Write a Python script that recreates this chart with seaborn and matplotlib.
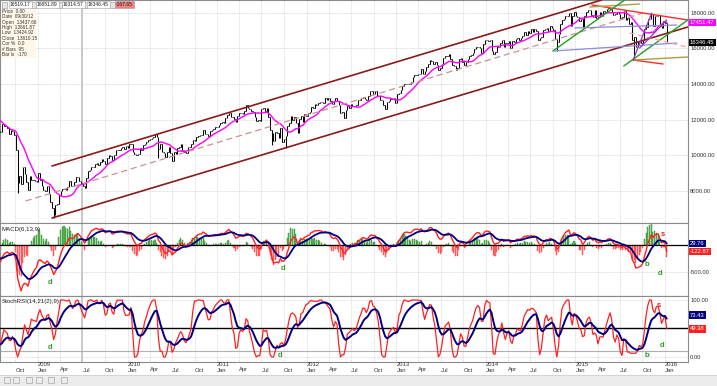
import numpy as np
import pandas as pd
import matplotlib
matplotlib.use("Agg")
import matplotlib.pyplot as plt
import matplotlib.dates as mdates
from matplotlib.patches import Rectangle
import seaborn as sns

# ---------------- data: weekly closes (Friday) ----------------
close_2007 = [13611, 13908, 13851, 13265, 13181, 13240, 13079, 13379, 13358,
              13113, 13442, 13821, 13896, 14066, 14093, 13522, 13807, 13595,
              13043, 13177, 12981, 13372, 13626, 13340, 13450, 13366]
close_2008 = [12800, 12606, 12099, 12207, 12743, 12183, 12348, 12381, 12266,
              11894, 11951, 12361, 12216, 12609, 12325, 12849, 12891, 13058,
              12745, 12986, 12480, 12638, 12210, 12307, 11843, 11347, 11288,
              11100, 11496, 11370, 11326, 11734, 11659, 11628, 11543, 11220,
              11421, 11388, 11143, 10325, 8451, 8852, 8378, 9325, 8943, 8497,
              8046, 8829, 8635, 8629, 8579, 8515]
close_2009 = [9034, 8599, 8281, 8077, 8001, 8280, 7850, 7366, 7063, 6627, 7224,
              7279, 7776, 8018, 8083, 8131, 8076, 8212, 8575, 8268, 8277, 8500,
              8764, 8799, 8539, 8438, 8280, 8146, 8743, 9093, 9172, 9370, 9321,
              9505, 9544, 9441, 9605, 9820, 9665, 9488, 9865, 9996, 9972, 9713,
              10023, 10270, 10319, 10310, 10389, 10471, 10329, 10520]
close_2010 = [10428, 10618, 10610, 10173, 10067, 10012, 10099, 10402, 10325,
              10567, 10625, 10742, 10851, 10927, 10998, 11019, 11204, 11009,
              10380, 10620, 10193, 10137, 9931, 10212, 10450, 10144, 9686,
              10198, 10097, 10425, 10466, 10653, 10303, 10213, 10150, 10448,
              10462, 10607, 10860, 10829, 11006, 11062, 11133, 11118, 11444,
              11192, 11203, 11092, 11382, 11410, 11491, 11573, 11578]
close_2011 = [11674, 11787, 11871, 11823, 12092, 12273, 12391, 12130, 12169,
              12044, 11858, 12220, 12376, 12380, 12342, 12505, 12811, 12638,
              12596, 12512, 12441, 12151, 11952, 12004, 11934, 12582, 12657,
              12480, 12681, 12143, 11445, 11269, 10818, 11285, 11240, 10992,
              11510, 10772, 10913, 11104, 11644, 11809, 12231, 11983, 12153,
              11796, 11231, 12019, 12184, 11867, 12294, 12218]
close_2012 = [12360, 12422, 12720, 12660, 12862, 12801, 12950, 12983, 12978,
              12922, 13233, 13081, 13212, 13060, 12850, 13029, 13228, 13038,
              12821, 12369, 12455, 12119, 12554, 12767, 12640, 12880, 12772,
              12777, 12822, 13075, 13096, 13207, 13275, 13157, 13090, 13306,
              13593, 13579, 13437, 13610, 13328, 13343, 13107, 13093, 12815,
              12588, 13009, 13026, 13155, 13135, 13190, 12938]
close_2013 = [13435, 13488, 13650, 13896, 14009, 13993, 13982, 14001, 14090,
              14397, 14515, 14512, 14579, 14565, 14865, 14548, 14712, 14974,
              15118, 15354, 15303, 15116, 15248, 15070, 14800, 14910, 15136,
              15464, 15544, 15559, 15658, 15425, 15081, 15010, 14810, 14922,
              15376, 15452, 15258, 15073, 15237, 15400, 15570, 15616, 15762,
              15962, 16065, 16086, 16020, 15755, 16221, 16479]
close_2014 = [16470, 16437, 16459, 15879, 15699, 15794, 16154, 16103, 16322,
              16452, 16065, 16303, 16323, 16413, 16027, 16409, 16361, 16513,
              16583, 16491, 16606, 16717, 16924, 16776, 16948, 16851, 17068,
              16944, 17100, 16961, 16493, 16553, 16663, 17001, 17098, 17138,
              16988, 17280, 17114, 17010, 16544, 16380, 16805, 17391, 17573,
              17634, 17810, 17828, 17958, 17281, 17805, 18054]
close_2015 = [17833, 17737, 17512, 17673, 17165, 17825, 18019, 18140, 18133,
              17857, 17749, 18128, 17713, 17763, 18058, 17827, 18080, 18024,
              18191, 18272, 18232, 18011, 17849, 17899, 18016, 17947, 17730,
              17760, 18086, 17568, 17690, 17373, 17477, 16460, 16643, 16102,
              16433, 16385, 16315, 16472, 17084, 17216, 17646, 17664, 17910,
              17245, 17824, 17798, 17848, 17265, 17128, 17553]
close_2016 = [17425, 16346]

# intraweek extreme lows visible as long wicks
wick_dates = ["2008-10-10", "2009-03-06", "2010-05-07", "2011-08-12",
              "2011-10-07", "2014-10-17", "2015-08-28"]
wick_lows = [7882, 6470, 9870, 10604, 10404, 15855, 15370]

# drawn trendlines (start date, start price, end date, end price)
trend_t0 = ["2009-02-27", "2009-02-27", "2008-11-11", "2015-03-09", "2015-08-24",
            "2015-02-28", "2015-08-24", "2014-10-01", "2015-07-17", "2014-10-05",
            "2014-12-29", "2015-08-10", "2015-08-24", "2015-09-20"]
trend_p0 = [9400, 6482, 7436, 18432, 15346, 18320, 15346, 15851, 15010, 15851,
            17142, 16861, 15346, 16019]
trend_t1 = ["2015-04-18", "2016-04-03", "2015-10-03", "2016-04-03", "2015-12-24",
            "2015-09-20", "2016-04-03", "2015-07-21", "2016-04-03", "2016-02-18",
            "2016-02-18", "2016-03-30", "2015-11-08", "2016-01-08"]
trend_p1 = [18712, 17198, 17983, 17590, 15122, 18488, 15515, 18712, 17590, 16300,
            17310, 16076, 17983, 17590]

price_ticks = [8000, 10000, 12000, 14000, 16000, 18000]
macd_ticks = [-500]
stoch_ticks = [0, 100]

header_values = ["16519.17", "16651.89", "16314.57", "16346.45", "-167.65"]
info_lines = ["Price  0.00", "Date  09/30/12", "Open  13437.66", "High  13661.87",
              "Low  13424.92", "Close  13610.15", "Cor %  0.0", "# Bars  95",
              "Bar Ix  -170"]
price_value_labels = [("17451.47", 17451.47), ("16346.45", 16346.45)]
macd_value_labels = [("29.76", 29.76), ("-122.87", -122.87)]
stoch_value_labels = [("73.43", 73.43), ("49.38", 49.38)]

# divergence / signal markers (date, value, letter)
macd_marks = [("2009-02-20", -700, "d"), ("2011-09-26", -426, "d"),
              ("2015-10-20", -370, "b"), ("2015-12-10", -519, "d"),
              ("2015-12-23", 185, "s")]
stoch_marks = [("2009-02-18", 15.8, "d"), ("2011-09-13", 1.8, "d"),
               ("2015-10-20", 1.8, "b"), ("2015-12-19", 21, "d"),
               ("2015-12-07", 91, "s")]

# ---------------- series ----------------
close = pd.Series(np.concatenate([close_2007, close_2008, close_2009, close_2010,
                                  close_2011, close_2012, close_2013, close_2014,
                                  close_2015, close_2016]).astype(float))
dates = pd.date_range(end="2016-01-08", periods=len(close), freq="W-FRI")
close.index = dates
x = mdates.date2num(dates.to_pydatetime())

open_ = close.shift(1)
open_.iloc[0] = close.iloc[0]
low = np.minimum(open_, close)
high = np.maximum(open_, close)
for d, v in zip(wick_dates, wick_lows):
    ts = pd.Timestamp(d)
    if ts in low.index:
        low[ts] = min(low[ts], v)

ma13 = close.rolling(13).mean()
ema6 = close.ewm(span=6, adjust=False).mean()
ema13 = close.ewm(span=13, adjust=False).mean()
macd = ema6 - ema13
signal = macd.ewm(span=9, adjust=False).mean()
hist = (macd - signal) * 1.5  # histogram drawn at enlarged scale

delta = close.diff()
gain = delta.clip(lower=0)
loss = -delta.clip(upper=0)
ag = gain.ewm(alpha=1 / 14, adjust=False).mean()
al = loss.ewm(alpha=1 / 14, adjust=False).mean()
rsi = 100 - 100 / (1 + ag / al)
lo21 = rsi.rolling(21).min()
hi21 = rsi.rolling(21).max()
stoch = (rsi - lo21) / (hi21 - lo21) * 100
stoch_k = stoch.rolling(2).mean()
stoch_d = stoch_k.ewm(span=9, adjust=False).mean()

# ---------------- figure ----------------
sns.set_theme(style="white")
plt.rcParams["font.family"] = ["Liberation Sans", "DejaVu Sans"]

W, H = 717, 386
fig = plt.figure(figsize=(W / 100, H / 100), dpi=100)
fig.patch.set_facecolor("white")


def fax(top, bottom, left=0, right=688):
    return fig.add_axes([left / W, 1 - bottom / H, (right - left) / W, (bottom - top) / H])


ax = fax(0, 223)
axm = fax(223, 296)
axs = fax(296, 362)

jan09 = mdates.date2num(pd.Timestamp("2009-01-01"))
jan16 = mdates.date2num(pd.Timestamp("2016-01-01"))
pxd = (665 - 38) / (jan16 - jan09)
xl = (jan09 - 38 / pxd, jan16 + (688 - 665) / pxd)

quarters = pd.date_range("2008-10-01", "2016-01-01", freq="QS-JAN")
qx = mdates.date2num(quarters.to_pydatetime())

grid_kw = dict(color="#D4D4D4", lw=0.6, ls=(0, (1, 1)))
for a in (ax, axm, axs):
    a.set_facecolor("white")
    a.set_xlim(*xl)
    for q in qx:
        a.axvline(q, zorder=0, **grid_kw)
    a.axvline(mdates.date2num(pd.Timestamp("2009-07-01")), color="#C4C4C4", lw=1.3, zorder=0)
    a.set_xticks([])
    for s in a.spines.values():
        s.set_color("#8A8A8A")
        s.set_linewidth(0.8)
    a.yaxis.tick_right()
    a.tick_params(axis="y", which="both", length=0, labelsize=4.2, labelcolor="#333333",
                  pad=1.5, right=True, left=False, labelright=True, labelleft=False)

# ---- main price panel ----
vis = x >= xl[0] - 10
ax.vlines(x[vis], low[vis], high[vis], color="black", lw=0.75, zorder=3)
ax.hlines(open_[vis], x[vis] - 2.5, x[vis], color="black", lw=0.6, zorder=3)
ax.hlines(close[vis], x[vis], x[vis] + 2.5, color="black", lw=0.6, zorder=3)
sns.lineplot(x=x, y=ma13.values, ax=ax, color="#FF00FF", lw=1.0, errorbar=None,
             legend=False, zorder=4)

trend_styles = [
    dict(color="#8B1A1A", lw=1.2),
    dict(color="#8B1A1A", lw=1.2),
    dict(color="#CC9090", lw=0.9, ls=(0, (5, 3))),
    dict(color="#FF2A2A", lw=1.0),
    dict(color="#FF2A2A", lw=1.0),
    dict(color="#A8A040", lw=1.0),
    dict(color="#A8A040", lw=1.0),
    dict(color="#1FA01F", lw=1.0),
    dict(color="#1FA01F", lw=1.0),
    dict(color="#8C8CD8", lw=0.9),
    dict(color="#8C8CD8", lw=0.9),
    dict(color="#FF9A9A", lw=0.9, ls=(0, (4, 3))),
    dict(color="#9A30C8", lw=0.9),
    dict(color="#9A30C8", lw=0.9),
]
for t0, p0, t1, p1, st in zip(trend_t0, trend_p0, trend_t1, trend_p1, trend_styles):
    ax.plot(mdates.date2num([pd.Timestamp(t0), pd.Timestamp(t1)]), [p0, p1], zorder=5, **st)

ax.set_ylim(6202, 18712)
ax.set_yticks(price_ticks)
ax.set_yticklabels([f"{v:.2f}" for v in price_ticks])
for v in price_ticks:
    ax.axhline(v, zorder=0, **grid_kw)
ax.set_ylabel("")

box_colors = ["#FF00FF", "#000000"]
for (txt, val), c in zip(price_value_labels, box_colors):
    ax.annotate(txt, xy=(1, val), xycoords=("axes fraction", "data"), xytext=(2, 0),
                textcoords="offset pixels", ha="left", va="center", fontsize=4.2,
                color="white", annotation_clip=False,
                bbox=dict(boxstyle="square,pad=0.2", fc=c, ec="none"))

# ---- MACD panel ----
colors = np.where(hist.values >= 0, "#5DBB5D", "#FF6B6B")
edges = np.where(hist.values >= 0, "#2E8B2E", "#FF4040")
axm.bar(x[vis], hist.values[vis], width=4.2, color=colors[vis], edgecolor=edges[vis],
        lw=0.3, zorder=2)
axm.axhline(0, color="black", lw=0.9, zorder=3)
sns.lineplot(x=x, y=macd.values, ax=axm, color="#FF2020", lw=1.0, errorbar=None,
             legend=False, zorder=4)
sns.lineplot(x=x, y=signal.values, ax=axm, color="#000080", lw=1.3, errorbar=None,
             legend=False, zorder=5)
axm.set_ylim(-944, 407)
axm.set_yticks(macd_ticks)
axm.set_yticklabels([f"{v:.2f}" for v in macd_ticks])
for v in macd_ticks:
    axm.axhline(v, zorder=0, **grid_kw)
axm.set_ylabel("")
axm.text(2 / 688, 0.95, "MACD(6,13,9)", transform=axm.transAxes, fontsize=4.4,
         color="#222222", ha="left", va="top")
for (txt, val), c in zip(macd_value_labels, ["#000080", "#FF2020"]):
    axm.annotate(txt, xy=(1, val), xycoords=("axes fraction", "data"), xytext=(2, 0),
                 textcoords="offset pixels", ha="left", va="center", fontsize=4.2,
                 color="white", annotation_clip=False,
                 bbox=dict(boxstyle="square,pad=0.2", fc=c, ec="none"))
for d, v, t in macd_marks:
    axm.text(mdates.date2num(pd.Timestamp(d)), v, t, fontsize=5.5, fontweight="bold",
             color="#E02020" if t == "s" else "#2A9A2A", ha="center", va="center", zorder=6)

# ---- StochRSI panel ----
axs.axhline(50, color="black", lw=1.0, zorder=3)
axs.axhline(10, color="#B0B0B0", lw=0.8, zorder=1)
sns.lineplot(x=x, y=stoch_k.values, ax=axs, color="#FF2020", lw=0.9, errorbar=None,
             legend=False, zorder=4)
sns.lineplot(x=x, y=stoch_d.values, ax=axs, color="#000080", lw=1.4, errorbar=None,
             legend=False, zorder=5)
axs.set_ylim(-8.8, 107)
axs.set_yticks(stoch_ticks)
axs.set_yticklabels([f"{v:.2f}" for v in stoch_ticks])
for v in stoch_ticks:
    axs.axhline(v, zorder=0, **grid_kw)
axs.set_ylabel("")
axs.text(2 / 688, 0.96, "StochRSI(14,21(2),9)", transform=axs.transAxes, fontsize=4.4,
         color="#222222", ha="left", va="top")
for (txt, val), c in zip(stoch_value_labels, ["#000080", "#FF2020"]):
    axs.annotate(txt, xy=(1, val), xycoords=("axes fraction", "data"), xytext=(2, 0),
                 textcoords="offset pixels", ha="left", va="center", fontsize=4.2,
                 color="white", annotation_clip=False,
                 bbox=dict(boxstyle="square,pad=0.2", fc=c, ec="none"))
for d, v, t in stoch_marks:
    axs.text(mdates.date2num(pd.Timestamp(d)), v, t, fontsize=5.5, fontweight="bold",
             color="#E02020" if t == "s" else "#2A9A2A", ha="center", va="center", zorder=6)

# x labels
for q, qd in zip(qx, quarters):
    axs.annotate(qd.strftime("%b"), xy=(q, 0), xycoords=("data", "axes fraction"),
                 xytext=(0, -8), textcoords="offset pixels", ha="left", va="center",
                 fontsize=4.2, color="#333333", annotation_clip=False)
    if qd.month == 1:
        axs.annotate(str(qd.year), xy=(q, 0), xycoords=("data", "axes fraction"),
                     xytext=(0, -2.6), textcoords="offset pixels", ha="left", va="center",
                     fontsize=4.2, color="#333333", annotation_clip=False)

# ---- header boxes ----
def fx(px):
    return px / W


def fy(py):
    return 1 - py / H


icon_x = [2, 31, 57, 83, 110]
text_x = [10, 37, 63, 88, 116]
for i, (ix, tx, val) in enumerate(zip(icon_x, text_x, header_values)):
    fig.add_artist(Rectangle((fx(ix), fy(8)), 5 / W, 6 / H, transform=fig.transFigure,
                             fc="#E6E6E6", ec="#909090", lw=0.4))
    fig.text(fx(tx), fy(4.6), val, fontsize=3.6, va="center", ha="left",
             color="#222222",
             bbox=dict(boxstyle="square,pad=0.25",
                       fc="#F08080" if i == 4 else "white", ec="#A0A0A0", lw=0.4))

fig.add_artist(Rectangle((fx(0.5), fy(58)), 35 / W, 49 / H, transform=fig.transFigure,
                         fc="#FFF8E8", ec="none", zorder=10))
for i, line in enumerate(info_lines):
    fig.text(fx(2), fy(11.3 + i * 5.4), line, fontsize=3.4, va="center", ha="left",
             color="#333333", zorder=11)

# ---- bottom toolbar ----
fig.add_artist(Rectangle((0, 0), 1, 11 / H, transform=fig.transFigure,
                         fc="#ECECEC", ec="none"))
fig.add_artist(plt.Line2D([0, 1], [11 / H, 11 / H], transform=fig.transFigure,
                          color="#D0D0D0", lw=0.6))
for bx in [4, 13, 26, 36, 48, 61]:
    fig.add_artist(Rectangle((fx(bx), fy(383)), 6 / W, 6 / H, transform=fig.transFigure,
                             fc="none", ec="#A8A8A8", lw=0.5))

fig.savefig("out.png", dpi=100, facecolor="white")
